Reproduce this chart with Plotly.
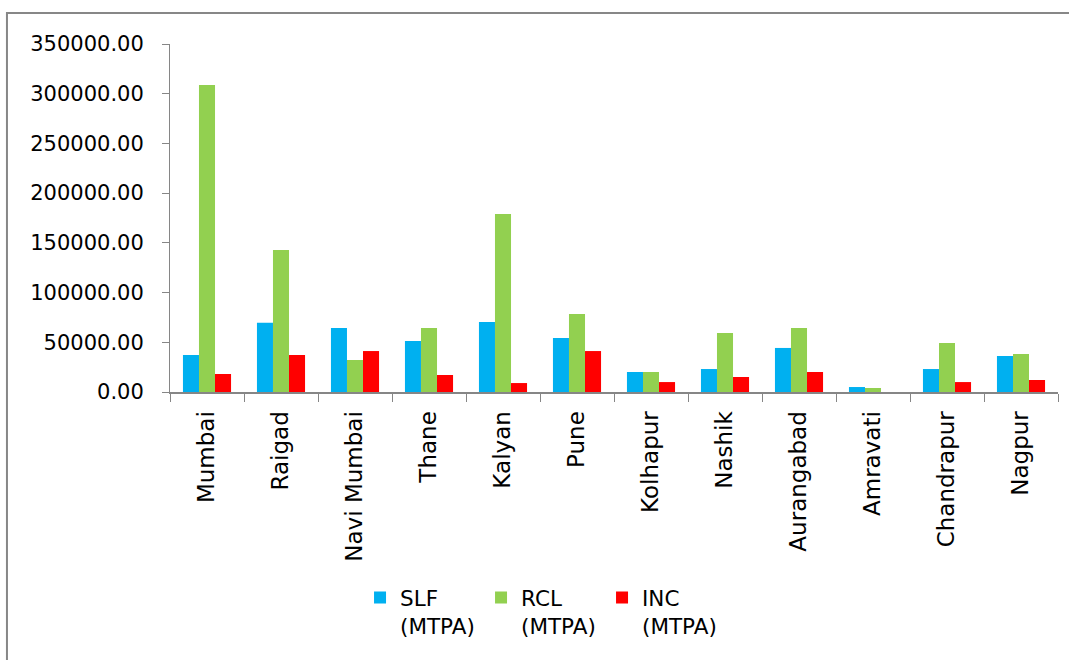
import plotly.graph_objects as go

categories = ["Mumbai", "Raigad", "Navi Mumbai", "Thane", "Kalyan", "Pune",
              "Kolhapur", "Nashik", "Aurangabad", "Amravati", "Chandrapur", "Nagpur"]
slf = [37200, 69700, 64400, 51300, 70400, 54300, 20100, 23100, 44300, 5000, 23100, 36200]
rcl = [308700, 142800, 32200, 64400, 179000, 78400, 20100, 59300, 64400, 4000, 49300, 38200]
inc = [18100, 37200, 41200, 17100, 9000, 41200, 10000, 15100, 20100, 0, 10000, 12100]
series_names = ["SLF<br>(MTPA)", "RCL<br>(MTPA)", "INC<br>(MTPA)"]
colors = ["#00B0F0", "#92D050", "#FF0000"]
y_ticks = [0, 50000, 100000, 150000, 200000, 250000, 300000, 350000]

FONT = "DejaVu Sans"
AX = "#868686"

fig = go.Figure()
for name, vals, col in zip(series_names, [slf, rcl, inc], colors):
    fig.add_trace(go.Bar(x=categories, y=vals, name=name, marker_color=col,
                         marker_line_width=0))

fig.update_layout(
    width=1069, height=660,
    margin=dict(l=170, r=11, t=44, b=268),
    paper_bgcolor="white", plot_bgcolor="white",
    barmode="group", bargap=0.35, bargroupgap=0,
    font=dict(family=FONT, size=20, color="#000000"),
    legend=dict(orientation="h", x=0.214, xanchor="left", y=-0.532, yanchor="top",
                valign="top", entrywidth=76, entrywidthmode="pixels",
                font=dict(family=FONT, size=21.5), itemwidth=30, tracegroupgap=0),
    showlegend=True,
)
fig.update_yaxes(range=[0, 350000], tickvals=y_ticks, tickformat=".2f",
                 showgrid=False, zeroline=False, showline=True, linecolor=AX, linewidth=1,
                 ticks="outside", ticklen=7, tickcolor=AX, ticklabelstandoff=14,
                 tickfont=dict(family=FONT, size=21, color="#000"))
fig.update_xaxes(showgrid=False, showline=True, linecolor=AX, linewidth=2,
                 ticks="outside", ticklen=8, tickcolor=AX, tickson="boundaries",
                 tickangle=-90, ticklabelstandoff=8,
                 tickfont=dict(family=FONT, size=23, color="#000"))

# outer chart border (top and left edges visible inside the page)
fig.add_shape(type="rect", xref="paper", yref="paper",
              x0=-0.1836, x1=1.2, y0=-1.0, y1=1.089,
              line=dict(color="#878787", width=2), fillcolor="rgba(0,0,0,0)", layer="below")

fig.write_html(
    "out.html",
    config={"displayModeBar": False},
    post_script="document.body.style.margin='0';document.body.style.overflow='hidden';"
                "document.documentElement.style.overflow='hidden';",
)
